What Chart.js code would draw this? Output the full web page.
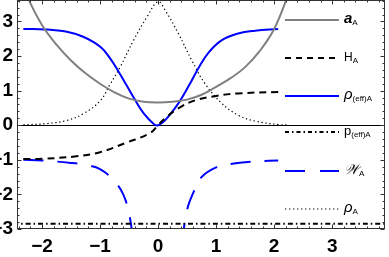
<!DOCTYPE html>
<html>
<head>
<meta charset="utf-8">
<script src="https://cdn.jsdelivr.net/npm/chart.js@4.4.0/dist/chart.umd.js"></script>
<style>
    html, body { margin: 0; padding: 0; background: #fff; overflow: hidden; }
    #wrap { position: absolute; left: -12px; top: 0; width: 401px; height: 257px; }
    #legend {
        position: absolute; left: 285px; top: 0; width: 104px; height: 229px;
        font-family: "Liberation Sans", Arial, sans-serif; color: #000;
    }
    .row { position: absolute; left: 0; height: 20px; display: flex; align-items: center; }
    .row svg { width: 54px; height: 6px; flex: none; }
    .lab { margin-left: 5px; white-space: nowrap; line-height: 20px; }
    .lab sub { font-size: 8px; vertical-align: -2px; font-style: normal; font-weight: normal; }
</style>
</head>
<body>
<div id="wrap"><canvas id="chart" width="401" height="257"></canvas></div>
<div id="legend"></div>
<script>
// Axis ticks
const xTicks = [-2, -1, 0, 1, 2, 3];
const yTicks = [-3, -2, -1, 0, 1, 2, 3];

// a_A (gray)
const aX = [-2.35, -2.25, -2, -1.75, -1.5, -1.25, -1, -0.75, -0.5, -0.25, 0, 0.25, 0.5, 0.75, 1, 1.25, 1.5, 1.75, 2, 2.25, 2.32];
const aY = [4.1, 3.7, 2.9, 2.33, 1.87, 1.5, 1.2, 0.95, 0.77, 0.68, 0.66, 0.68, 0.74, 0.88, 1.11, 1.36, 1.68, 2.14, 2.78, 3.8, 4.1];

// H_A (black dashed)
const hX = [-2.32, -2, -1.41, -1, -0.54, -0.14, 0, 0.12, 0.35, 0.64, 0.98, 1.38, 2.07];
const hY = [-0.98, -0.97, -0.9, -0.78, -0.5, -0.23, 0, 0.2, 0.49, 0.72, 0.84, 0.92, 0.96];

// rho_(eff)A (blue solid)
const rEffX = [-2.32, -1.94, -1.57, -1.28, -0.99, -0.82, -0.71, -0.53, -0.42, -0.25, -0.07, 0, 0.12, 0.35, 0.52, 0.7, 0.87, 1.1, 1.38, 1.67, 2.07];
const rEffY = [2.78, 2.77, 2.7, 2.55, 2.26, 1.92, 1.63, 1.12, 0.8, 0.35, 0.03, 0, 0.14, 0.63, 1.11, 1.66, 2.1, 2.46, 2.65, 2.73, 2.78];

// p_(eff)A (dash-dot)
const pEffX = [-2.5, 4.0];
const pEffY = [-2.85, -2.85];

// W_A (blue long dash), two branches
const wLeftX = [-2.32, -2, -1.5, -1.25, -1, -0.75, -0.6, -0.5, -0.42];
const wLeftY = [-1.0, -1.02, -1.09, -1.15, -1.27, -1.62, -2.0, -2.55, -3.4];
const wRightX = [0.41, 0.5, 0.6, 0.75, 1, 1.25, 1.5, 1.75, 2.07];
const wRightY = [-3.4, -2.45, -1.98, -1.5, -1.22, -1.12, -1.07, -1.04, -1.02];

// rho_A (dotted)
const rAX = [-2.32, -1.9, -1.57, -1.28, -0.99, -0.82, -0.65, -0.42, -0.19, 0, 0.12, 0.35, 0.58, 0.81, 1.1, 1.38, 1.67, 2.07, 2.26];
const rAY = [0.01, 0.05, 0.14, 0.34, 0.72, 1.2, 1.69, 2.46, 3.13, 3.57, 3.33, 2.65, 1.88, 1.2, 0.63, 0.29, 0.12, 0.02, 0.01];

const pts = (xs, ys) => xs.map((x, i) => ({ x: x, y: ys[i] }));
const fmt = v => (v < 0 ? '\u2212' + Math.abs(v) : String(v));

const tickFont = { family: '"Liberation Sans", Arial, sans-serif', size: 19, weight: 'bold' };

function line(label, data, color, width, dash) {
    return {
        label: label,
        data: data,
        borderColor: color,
        borderWidth: width,
        borderDash: dash,
        pointRadius: 0,
        fill: false,
        tension: 0.4
    };
}

// frame, inner ticks and zero line
const framePlugin = {
    id: 'frame',
    beforeDatasetsDraw(chart) {
        const { ctx, chartArea: a, scales: { y } } = chart;
        const y0 = Math.round(y.getPixelForValue(0)) + 0.5;
        ctx.save();
        ctx.strokeStyle = '#000';
        ctx.lineWidth = 1;
        ctx.beginPath();
        ctx.moveTo(a.left, y0);
        ctx.lineTo(a.right, y0);
        ctx.stroke();
        ctx.restore();
    },
    afterDatasetsDraw(chart) {
        const { ctx, chartArea: a, scales: { x, y } } = chart;
        const L = Math.round(a.left) + 0.5, R = Math.round(a.right) - 0.5;
        const T = Math.round(a.top) + 0.5, B = Math.round(a.bottom) - 0.5;
        ctx.save();
        ctx.strokeStyle = '#333';
        ctx.lineWidth = 1;
        ctx.strokeRect(L, T, R - L, B - T);
        ctx.beginPath();
        for (let i = -12; i <= 19; i++) {
            const v = i / 5;
            const len = i % 5 === 0 ? 4 : 2;
            const px = Math.round(x.getPixelForValue(v)) + 0.5;
            ctx.moveTo(px, B); ctx.lineTo(px, B - len);
            ctx.moveTo(px, T); ctx.lineTo(px, T + len);
        }
        for (let i = -15; i <= 18; i++) {
            const v = i / 5;
            const len = i % 5 === 0 ? 4 : 2;
            const py = Math.round(y.getPixelForValue(v)) + 0.5;
            ctx.moveTo(L, py); ctx.lineTo(L + len, py);
            ctx.moveTo(R, py); ctx.lineTo(R - len, py);
        }
        ctx.stroke();
        ctx.restore();
    }
};

new Chart(document.getElementById('chart'), {
    type: 'line',
    data: {
        datasets: [
            line('aA', pts(aX, aY), '#808080', 2, []),
            line('HA', pts(hX, hY), '#000', 2, [7, 5]),
            line('rhoEff', pts(rEffX, rEffY), '#0000ff', 2, []),
            line('pEff', pts(pEffX, pEffY), '#000', 2, [5, 3, 1.5, 3]),
            line('WA', pts(wLeftX, wLeftY), '#0000ff', 2, [20, 14]),
            line('WA2', pts(wRightX, wRightY), '#0000ff', 2, [20, 14]),
            line('rhoA', pts(rAX, rAY), '#000', 1.2, [1.3, 2.7])
        ]
    },
    options: {
        responsive: false,
        animation: false,
        layout: { padding: { left: 0, right: 4, top: 0, bottom: 0 } },
        plugins: { legend: { display: false }, tooltip: { enabled: false } },
        scales: {
            x: {
                type: 'linear', min: -2.43, max: 3.91,
                grid: { display: false, drawTicks: false },
                border: { display: false },
                afterBuildTicks: s => { s.ticks = xTicks.map(v => ({ value: v })); },
                afterFit: s => { s.height = 28; s.paddingLeft = 0; s.paddingRight = 0; },
                ticks: { font: tickFont, color: '#000', padding: 6, maxRotation: 0, autoSkip: false, callback: fmt }
            },
            y: {
                type: 'linear', min: -3, max: 3.62,
                grid: { display: false, drawTicks: false },
                border: { display: false },
                afterBuildTicks: s => { s.ticks = yTicks.map(v => ({ value: v })); },
                afterFit: s => { s.width = 29; s.paddingTop = 0; s.paddingBottom = 0; },
                ticks: { font: tickFont, color: '#000', padding: 4, autoSkip: false, callback: fmt }
            }
        }
    },
    plugins: [framePlugin]
});

// legend (HTML, real text)
const legendRows = [
    { y: 20, stroke: '#808080', w: 2, dash: '', html: '<b><i style="font-size:15px">a</i></b><sub>A</sub>' },
    { y: 58, stroke: '#000', w: 2, dash: '6 5', html: '<span style="font-size:12px">H</span><sub>A</sub>' },
    { y: 96, stroke: '#0000ff', w: 2, dash: '', html: '<i style="font-size:15px">\u03c1</i><sub>(eff)A</sub>' },
    { y: 132, stroke: '#000', w: 2, dash: '4 3 1.5 3', html: '<span style="font-size:13px">p</span><sub>(eff)A</sub>' },
    { y: 171, stroke: '#0000ff', w: 2, dash: '20 15', html: '<i style="font-size:14px">\ud835\udcb2</i><sub>A</sub>' },
    { y: 209, stroke: '#000', w: 1.2, dash: '1.3 2.7', html: '<i style="font-size:15px">\u03c1</i><sub>A</sub>' }
];
const legend = document.getElementById('legend');
legendRows.forEach(r => {
    const row = document.createElement('div');
    row.className = 'row';
    row.style.top = (r.y - 10) + 'px';
    row.innerHTML = `<svg viewBox="0 0 54 6"><line x1="0" y1="3" x2="54" y2="3" stroke="${r.stroke}" stroke-width="${r.w}" ${r.dash ? `stroke-dasharray="${r.dash}"` : ''}/></svg><span class="lab">${r.html}</span>`;
    legend.appendChild(row);
});
</script>
</body>
</html>
